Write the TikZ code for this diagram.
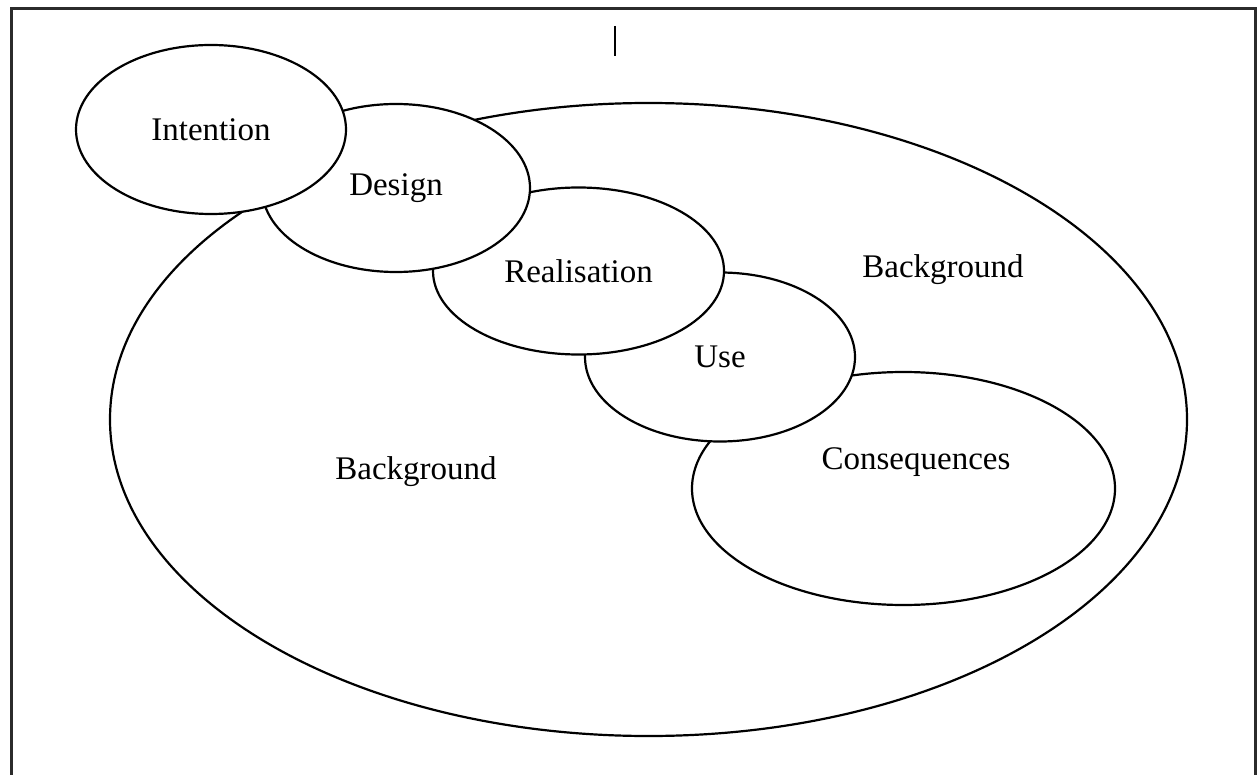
\documentclass[tikz,border=0pt]{standalone}
\usepackage{fontspec}
\setmainfont{Liberation Serif}
\usetikzlibrary{positioning}
\usetikzlibrary{shapes}
\definecolor{framegray}{HTML}{2B2B2B}
\tikzset{
        stage/.style={ellipse, draw=black, fill=white, line width=2.2pt, inner sep=0pt, outer sep=0pt},
        % Small phase ellipses
        stage_small/.style={stage, minimum width=270pt, minimum height=169pt},
        % Labels
        label_text/.style={font=\fontsize{33}{40}\selectfont, inner sep=0pt},
        % Page frame
        frame_line/.style={framegray, line width=3pt}
}
\begin{document}
\begin{tikzpicture}[x=1pt, y=-1pt]
            \useasboundingbox (0,0) rectangle (1257,775);
            % page frame, open at the bottom
            \coordinate (frame_bl) at (11,775);
            \coordinate (frame_tl) at (11,9);
            \coordinate (frame_tr) at (1255,9);
            \coordinate (frame_br) at (1255,775);
            \draw[frame_line] (frame_bl) -- (frame_tl) -- (frame_tr) -- (frame_br);
            % stray cursor mark
            \coordinate (cursor_top) at (615,26);
            \coordinate (cursor_bot) at (615,56);
            \draw[line width=1.6pt] (cursor_top) -- (cursor_bot);
            % background ellipse
            \node[stage, minimum width=1077pt, minimum height=633pt] (background) at (648.5,419.5) {};
            \node[stage, minimum width=423pt, minimum height=233pt] (consequences) at (903.5,488.5) {};
            \node[stage_small, label_text] (use) at (720,357) {Use};
            \node[stage, label_text, minimum width=291pt, minimum height=167pt] (realisation) at (578.5,271) {Realisation};
            \node[stage, label_text, minimum width=268pt, minimum height=168pt] (design) at (396,188) {Design};
            \node[stage_small, label_text] (intention) at (211,129.5) {Intention};
            % labels
            \node[label_text] (consequences_text) at (916,462) {Consequences};
            \node[label_text] (background_right) at (943,270) {Background};
            \node[label_text] (background_left) at (416,472) {Background};
        \end{tikzpicture}
\end{document}
